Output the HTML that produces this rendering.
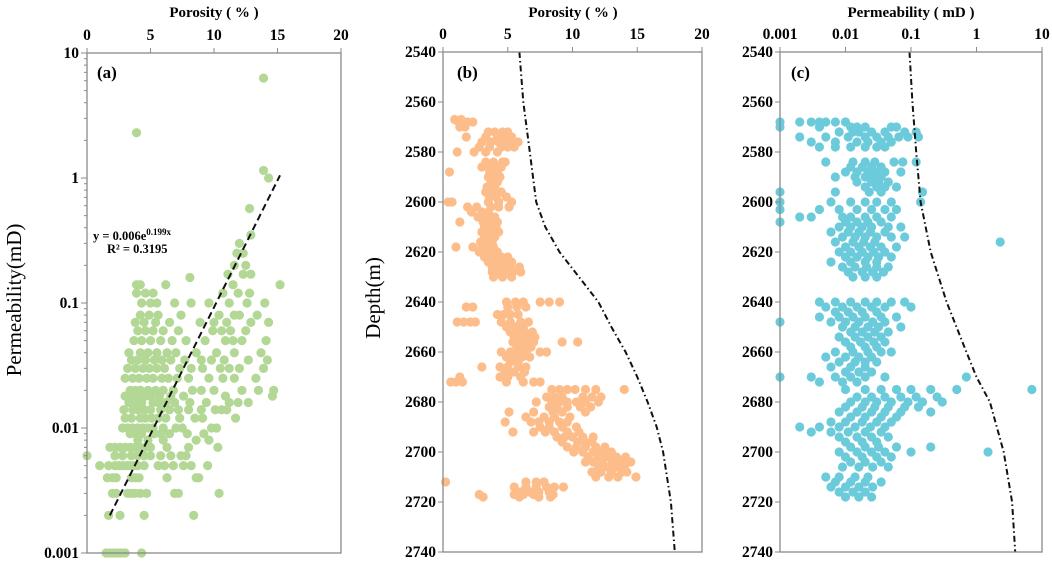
<!DOCTYPE html>
<html><head><meta charset="utf-8"><style>
body{margin:0;background:#fff}
svg{display:block;font-family:"Liberation Serif",serif}
.t{font-weight:bold;font-size:15.5px}
.tt{font-weight:bold;font-size:15px}
</style></head><body>
<svg id="s" width="1052" height="563"></svg>
<script>
// ---------- Panel (a): permeability levels and porosity rows ----------
const aPermLevels=[0.001,0.002,0.003,0.004,0.005,0.006,0.007,0.008,0.009,0.01,0.012,0.014,0.016,0.018,0.02,0.025,0.03,0.035,0.04,0.05,0.06,0.07,0.08,0.1,0.12,0.14,0.16,0.17,0.2,0.25,0.3,0.35,0.57,1.0,1.15,2.3,6.3];
const aPorRows=[
[1.5,1.8,2.1,2.4,2.7,3.0,4.3],[1.7,2.6,4.5,8.4],[2.0,2.3,3.2,3.5,3.8,4.2,4.7,6.9,7.2,10.4],
[1.6,2.0,2.3,3.5,3.8,4.1,6.3,8.6,8.8],[1.0,1.7,2.2,2.5,2.8,3.1,3.4,3.7,4.0,4.5,5.6,6.1,6.8,7.6,8.2,9.5],
[0,2.2,2.8,3.5,4.0,4.5,5.0,5.8,6.6,7.4,7.8],[1.8,2.2,2.6,3.0,3.4,3.8,4.2,4.6,5.0,6.3,8.0,10.3],
[4.0,4.8,6.0,8.6,9.6],[3.4,3.8,4.3,5.3,5.8,6.5,7.9,9.2],[2.8,3.2,3.6,4.0,4.4,4.8,5.2,6.0,7.0,7.5,9.8,10.2],
[3.0,3.5,4.2,4.6,5.1,5.6,6.2,7.3,8.5,9.1,11.7],[2.9,3.6,4.0,4.5,5.0,5.8,6.5,7.2,8.0,9.0,10.1,10.6,11.0],
[3.3,3.8,4.3,5.2,5.6,6.2,6.9,8.1,9.4,11.2,11.9,12.7],[3.0,3.5,4.0,4.6,5.0,5.7,6.6,7.6,10.9,14.6],
[3.4,3.8,4.2,4.8,5.4,6.0,6.8,8.3,9.0,10.0,12.2,13.5,14.7],[3.0,3.6,4.1,4.7,5.2,5.9,6.4,7.1,8.0,9.6,10.7,11.6,13.3],
[3.2,3.8,4.4,4.9,5.5,6.1,7.3,8.2,9.1,10.5,11.2,12.0,13.9],[3.5,4.0,4.6,5.3,5.9,6.6,7.7,9.0,9.8,10.8,12.7,14.2],
[3.3,4.2,4.8,5.5,6.3,7.0,8.6,10.2,11.6,13.7],[3.7,4.3,5.0,5.8,6.7,7.8,9.3,10.9,11.5,12.2,14.1],
[4.0,4.6,5.2,6.0,7.2,9.9,10.6,11.3,12.5],[3.8,4.5,5.4,6.5,8.9,10.0,11.0,12.9,14.3],
[4.2,4.9,5.6,7.4,10.4,11.6,12.0,13.4],[4.3,5.0,5.5,6.9,8.2,9.6,11.2,12.6,14.0],
[3.9,4.6,5.2,10.7,11.9,12.8],[3.9,4.2,6.2,15.2,11.5],[8.1],[11.1,12.3,12.9],[11.6,12.5],[11.8,12.3],[12.0],[12.9],[12.8],[14.3],[13.9],[3.9],[13.9]];
const aTrendPor=[1.8,15.2];
const aTrendPerm=[0.002,1.05];
// ---------- Panel (b): depth rows and porosity ----------
const bDepths=[2567,2568,2570,2572,2574,2576,2578,2580,2584,2586,2588,2590,2592,2594,2596,2598,2600,2602,2604,2606,2608,2610,2612,2614,2616,2618,2620,2622,2624,2626,2628,2630,2640,2642,2645,2648,2650,2652,2654,2656,2658,2660,2662,2664,2666,2668,2670,2672,2675,2678,2680,2682,2684,2686,2688,2690,2692,2694,2696,2698,2700,2702,2704,2706,2708,2710,2712,2714,2716,2717,2718];
const bPorRows=[[0.9,1.4],[1.9,2.3,1.2],[1.3,1.7],[3.5,4.0,4.6,5.0],[1.8,3.3,4.2,4.8,5.3],[3.0,3.7,4.3,4.9,5.5,5.8],[2.8,3.6,4.5,5.0,5.5],[1.1,2.4,3.3,4.2],[3.3,3.9,4.6,4.8],[3.0,3.5,4.1,4.5],[0.5,3.6,4.2],[3.5,4.0,4.4],[3.7,4.2],[3.4,4.0],[3.3,3.8,4.5],[3.6,4.1,4.9],[0.4,0.7,3.5,4.3,5.3],[1.9,2.6,3.7,4.3,5.1],[2.2,3.0,3.5],[2.7,3.3,3.8,4.0],[1.3,3.1,3.7,4.2],[3.2,3.6,4.1],[3.0,3.5,3.9,4.3],[3.2,3.7,4.0],[2.9,3.4,3.8],[1.0,2.3,3.0,3.4,3.9],[2.8,3.3,3.8,4.2],[3.2,3.6,4.0,4.5,5.0],[3.5,4.0,4.4,4.8,5.3],[3.8,4.3,4.8,5.2,5.9],[3.8,4.3,4.9,5.4,6.0],[3.9,4.6,5.3],
[4.9,5.6,6.2,7.5,8.2,9.0],[1.8,2.3,5.0,5.7,6.4],[4.2,4.7,5.2,5.8],[1.1,1.6,2.1,2.5,4.5,5.2,6.0,6.6],[4.9,5.6,6.2],[5.2,5.8,6.3,6.9],[5.5,6.1,6.7,7.1],[5.4,6.0,6.6,7.0,9.2,10.4],[5.7,6.3,6.8],[4.5,5.2,5.8,6.4,7.5,8.0],[4.9,5.5,6.1,6.7],[5.2,5.8],[3.0,4.4,5.0,5.8,6.4],[4.8,5.5,6.3],[1.3,4.4,5.0,6.0],[0.6,1.0,1.5,4.9,6.2,7.0,7.5],
[8.4,9.0,9.6,10.2,11.0,11.8,14.0],[8.0,8.6,9.2,10.8,11.5,12.2],[7.2,8.4,9.0,9.6,10.3,11.0,12.0],[8.2,8.8,9.6,10.6,11.4],[5.1,7.0,8.5,9.2,11.0],[6.4,7.8,8.6,9.8],[4.8,6.8,7.4,8.2,9.0,9.6],[7.5,8.2,9.2,10.3],[5.4,7.0,7.9,8.6,9.6,10.5],[8.8,9.4,10.0,10.8,11.6],[9.2,10.4,11.0,11.5],[9.6,10.3,11.0,11.8,12.5],[10.1,10.8,11.6,12.3,13.0],[11.2,12.0,12.7,13.4,14.1],[11.0,11.6,12.3,13.1,13.8,14.5],[12.0,12.7,13.4,14.0],[11.5,12.2,13.0,13.8,14.2],[11.8,12.8,13.5,14.9],[0.2,6.4,7.2,7.8],[5.5,6.4,7.2,8.0,8.6,9.3],[6.0,6.7,7.4,8.2],[2.8,5.5,6.2,7.0,8.5],[3.1,5.9,7.4,8.3]];
const bCurveDepth=[2540,2560,2580,2600,2610,2620,2630,2640,2650,2660,2670,2680,2690,2700,2720,2740];
const bCurvePor=[5.9,6.2,6.7,7.2,7.9,9.0,10.5,12.0,13.0,14.1,15.0,15.8,16.5,17.0,17.6,17.9];
// ---------- Panel (c): depth rows and permeability ----------
const cDepths=[2568,2570,2572,2574,2576,2578,2584,2586,2588,2590,2592,2594,2596,2600,2603,2606,2608,2610,2612,2614,2616,2618,2620,2622,2624,2626,2628,2630,2640,2642,2644,2646,2648,2650,2652,2654,2656,2658,2660,2662,2664,2666,2668,2670,2672,2675,2678,2680,2682,2684,2686,2688,2690,2692,2694,2696,2698,2700,2702,2704,2706,2710,2712,2714,2716,2718];
const cPermRows=[[0.001,0.002,0.003,0.004,0.005,0.007,0.01],[0.001,0.004,0.012,0.015,0.02,0.05,0.06],[0.008,0.013,0.016,0.025,0.04,0.08,0.12],[0.002,0.005,0.011,0.02,0.03,0.045,0.065,0.09,0.13],[0.003,0.007,0.015,0.022,0.035,0.05],[0.004,0.007,0.012,0.02,0.03,0.04],[0.005,0.013,0.02,0.028,0.055,0.075,0.12],[0.012,0.018,0.025,0.035],[0.01,0.015,0.022,0.03,0.04,0.07],[0.007,0.014,0.02,0.027,0.035],[0.015,0.025,0.032,0.045],[0.02,0.03,0.04,0.06],[0.001,0.007,0.023,0.035,0.15],[0.001,0.006,0.012,0.02,0.03,0.05,0.14],[0.001,0.004,0.008,0.015,0.025,0.04,0.06],[0.002,0.003,0.009,0.012,0.02,0.03,0.05],[0.001,0.01,0.015,0.022,0.035],[0.008,0.012,0.018,0.025,0.045,0.07],[0.006,0.011,0.016,0.024,0.04],[0.009,0.014,0.02,0.03,0.05,0.08],[0.007,0.013,0.019,0.028,2.3],[0.01,0.016,0.024,0.035,0.06],[0.008,0.012,0.018,0.027,0.04],[0.01,0.015,0.022,0.032,0.05],[0.006,0.012,0.02,0.03],[0.009,0.014,0.021,0.03,0.045],[0.011,0.018,0.026,0.038],[0.013,0.02,0.03],
[0.004,0.007,0.012,0.02,0.03,0.05,0.08],[0.005,0.009,0.015,0.025,0.04,0.1],[0.007,0.011,0.018,0.03],[0.004,0.008,0.013,0.02,0.035,0.06],[0.001,0.006,0.01,0.016,0.026,0.04],[0.009,0.014,0.022,0.032,0.07],[0.012,0.018,0.028,0.045],[0.008,0.014,0.022,0.035],[0.01,0.017,0.027,0.04],[0.012,0.02,0.03],[0.007,0.013,0.022,0.035,0.05],[0.005,0.01,0.016,0.025],[0.008,0.014,0.02,0.03],[0.006,0.012,0.02],[0.01,0.016,0.025],[0.001,0.003,0.007,0.012,0.02,0.04,0.7],[0.004,0.009,0.015],
[0.01,0.02,0.035,0.06,0.1,0.2,0.5,7],[0.015,0.025,0.04,0.07,0.12,0.25],[0.012,0.02,0.03,0.05,0.09,0.15,0.3],[0.01,0.018,0.028,0.045,0.08,0.13],[0.008,0.015,0.025,0.04,0.07,0.2],[0.012,0.02,0.035,0.06],[0.006,0.01,0.018,0.03,0.05],[0.002,0.004,0.008,0.014,0.024,0.04],[0.003,0.006,0.011,0.02,0.035],[0.008,0.015,0.025,0.045],[0.01,0.018,0.03],[0.012,0.02,0.032,0.06,0.2],[0.008,0.015,0.025,0.04,0.1,1.5],[0.01,0.018,0.03,0.05],[0.012,0.02,0.035],[0.009,0.016,0.026,0.045],[0.005,0.008,0.014,0.022],[0.007,0.012,0.02,0.035],[0.006,0.01,0.016,0.026],[0.008,0.013,0.02],[0.01,0.016,0.025]];
const cCurveDepth=[2540,2560,2580,2600,2620,2640,2660,2670,2680,2700,2720,2740];
const cCurvePerm=[0.095,0.105,0.12,0.14,0.2,0.35,0.7,1.0,1.6,2.6,3.5,3.9];
// tick labels
const porTicks=[0,5,10,15,20];
const permTicks=[0.001,0.01,0.1,1,10];
const depthTicks=[2540,2560,2580,2600,2620,2640,2660,2680,2700,2720,2740];

const NS='http://www.w3.org/2000/svg',svg=document.getElementById('s');
function el(t,a,p){const e=document.createElementNS(NS,t);for(const k in a)e.setAttribute(k,a[k]);(p||svg).appendChild(e);return e;}
function lin(d0,d1,r0,r1){return v=>r0+(v-d0)/(d1-d0)*(r1-r0);}
function lg(d0,d1,r0,r1){return v=>r0+(Math.log10(v)-Math.log10(d0))/(Math.log10(d1)-Math.log10(d0))*(r1-r0);}
function fmt(v){return String(v);}
const ax={a:{x:lin(0,20,87,341),y:lg(0.001,10,553,53),L:87,R:341,T:53,B:553},
b:{x:lin(0,20,443,702),y:lin(2540,2740,52,552),L:443,R:702,T:52,B:552},
c:{x:lg(0.001,10,780,1042),y:lin(2540,2740,52,552),L:780,R:1042,T:52,B:552}};

function frame(p,name){
  const r=el('rect',{x:p.L,y:p.T,width:p.R-p.L,height:p.B-p.T,fill:'none',stroke:'#8a8a8a','stroke-width':1.3});
  
}
function topAxis(p,ticks,name,title,cx){
  const g=el('g',{});
  ticks.forEach(v=>{const x=p.x(v);el('line',{x1:x,x2:x,y1:p.T-5,y2:p.T,stroke:'#8a8a8a'},g);
    const t=el('text',{x:x,y:p.T-13,'text-anchor':'middle',class:'t'},g);t.textContent=fmt(v);});
  const t=el('text',{x:cx,y:17,'text-anchor':'middle',class:'tt'},g);t.textContent=title;
  
}
function leftLin(p,ticks,name){
  const g=el('g',{});
  ticks.forEach(v=>{const y=p.y(v);el('line',{x1:p.L-5,x2:p.L,y1:y,y2:y,stroke:'#8a8a8a'},g);
    const t=el('text',{x:p.L-7,y:y+5,'text-anchor':'end',class:'t'},g);t.textContent=fmt(v);});
}
function leftLog(p,ticks,name){
  const g=el('g',{});
  ticks.forEach((v,i)=>{const y=p.y(v);el('line',{x1:p.L-6,x2:p.L,y1:y,y2:y,stroke:'#8a8a8a'},g);
    const t=el('text',{x:p.L-8,y:y+5,'text-anchor':'end',class:'t'},g);t.textContent=fmt(v);
    if(i<ticks.length-1)for(let m=2;m<10;m++){const yy=p.y(v*m);el('line',{x1:p.L-3,x2:p.L,y1:yy,y2:yy,stroke:'#8a8a8a'},g);}});
}
function dots(rowsVals,rowKeys,p,color,name){
  const g=el('g',{});
  rowsVals.forEach((row,i)=>row.forEach(v=>{
    const c=el('circle',{cx:p.x(v),cy:p.y(rowKeys[i]),r:4.6,fill:color},g);
    
    
  }));
}
function curve(xs,ys,p,name){
  const d=xs.map((v,i)=>(i?'L':'M')+p.x(v).toFixed(1)+','+p.y(ys[i]).toFixed(1)).join('');
  const c=el('path',{d:d,fill:'none',stroke:'#111','stroke-width':2,'stroke-dasharray':'6 3 1.5 3'});
  
}
function label(x,y,s,name){const t=el('text',{x:x,y:y,'font-size':17,'font-weight':'bold'});t.textContent=s;}

// Panel a
const A=ax.a;
dots(aPorRows,aPermLevels,A,'#b3d795','porosity-permeability-points');
(function(){const l=el('line',{x1:A.x(aTrendPor[0]),y1:A.y(aTrendPerm[0]),x2:A.x(aTrendPor[1]),y2:A.y(aTrendPerm[1]),stroke:'#111','stroke-width':2,'stroke-dasharray':'7 4'});
})();
frame(A,'panel-a');topAxis(A,porTicks,'panel-a','Porosity ( % )',214);leftLog(A,permTicks,'panel-a');
label(97,78,'(a)','panel-a-label');
(function(){const t=el('text',{x:93,y:240,'font-size':12.5,'font-weight':'bold'});t.innerHTML='y = 0.006e<tspan dy="-5" font-size="9">0.199x</tspan>';

const r=el('text',{x:107,y:253,'font-size':12.5,'font-weight':'bold'});r.textContent='R² = 0.3195';
})();
(function(){const t=el('text',{x:0,y:0,'font-size':21,'text-anchor':'middle',transform:'translate(21,300) rotate(-90)'});t.textContent='Permeability(mD)';
})();

// Panel b
const B=ax.b;
dots(bPorRows,bDepths,B,'#fdbd8a','depth-porosity-points');
curve(bCurvePor,bCurveDepth,B,'porosity-limit-curve');
frame(B,'panel-b');topAxis(B,porTicks,'panel-b','Porosity ( % )',573);leftLin(B,depthTicks,'panel-b');
label(457,78,'(b)','panel-b-label');
(function(){const t=el('text',{x:0,y:0,'font-size':21,'text-anchor':'middle',transform:'translate(380,298) rotate(-90)'});t.textContent='Depth(m)';
})();

// Panel c
const C=ax.c;
dots(cPermRows,cDepths,C,'#6ccbdb','depth-permeability-points');
curve(cCurvePerm,cCurveDepth,C,'permeability-limit-curve');
frame(C,'panel-c');topAxis(C,permTicks,'panel-c','Permeability ( mD )',911);leftLin(C,depthTicks,'panel-c');
label(791,78,'(c)','panel-c-label');
</script>
</body></html>
